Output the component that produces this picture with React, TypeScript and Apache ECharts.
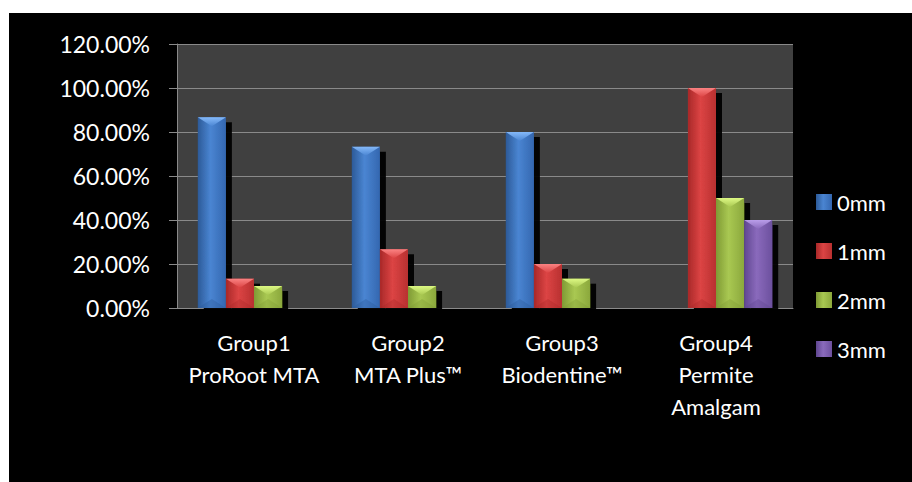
import React, { useEffect, useRef } from "react";
import * as echarts from "echarts";

const categories = ["Group1\nProRoot MTA", "Group2\nMTA Plus™", "Group3\nBiodentine™", "Group4\nPermite\nAmalgam"];
const seriesNames = ["0mm", "1mm", "2mm", "3mm"];
const values0mm = [86.67, 73.33, 80, 0];
const values1mm = [13.33, 26.67, 20, 100];
const values2mm = [10, 10, 13.33, 50];
const values3mm = [0, 0, 0, 40];
const yTicks = { min: 0, max: 120, interval: 20 };

const palette = [
  ["#2c5a98", "#4a85d2", "#3467b0", "#8cc0ff"],
  ["#a82828", "#dc4444", "#b83030", "#ff8a8a"],
  ["#7f9a34", "#a9c852", "#8ba83c", "#e4ff8a"],
  ["#5f4690", "#8a6abc", "#6c509e", "#c0a4f0"],
];

const grad = (c: string[]) =>
  new echarts.graphic.LinearGradient(0, 0, 1, 0, [
    { offset: 0, color: c[0] },
    { offset: 0.45, color: c[1] },
    { offset: 1, color: c[2] },
  ]);

const CAT_GAP = 0.27;

export default function App() {
  const ref = useRef<HTMLDivElement>(null);
  useEffect(() => {
    if (!ref.current) return;
    const chart = echarts.init(ref.current, null, { renderer: "svg" });
    const font = "Lato";
    const all = [values0mm, values1mm, values2mm, values3mm];
    const bevelData: number[][] = [];
    all.forEach((vals, s) => vals.forEach((v, c) => { if (v > 0) bevelData.push([c, s, v]); }));
    chart.setOption({
      animation: false,
      backgroundColor: "#ffffff",
      textStyle: { fontFamily: font },
      graphic: [
        { type: "rect", left: 9, top: 13, shape: { width: 903, height: 469 }, style: { fill: "#000000" }, z: -10 },
      ],
      grid: {
        left: 177,
        right: 119,
        top: 44,
        bottom: 174,
        show: true,
        backgroundColor: "#404040",
        borderWidth: 0,
      },
      legend: {
        orient: "vertical",
        left: 816,
        top: 191,
        padding: 0,
        itemWidth: 16,
        itemHeight: 16,
        itemGap: 27,
        icon: "rect",
        data: seriesNames,
        textStyle: { color: "#ffffff", fontSize: 22, fontFamily: font, lineHeight: 20 },
        itemStyle: { shadowColor: "rgba(0,0,0,0)", shadowBlur: 0, shadowOffsetX: 0, shadowOffsetY: 0 },
      },
      xAxis: {
        type: "category",
        data: categories,
        axisLine: { lineStyle: { color: "#8a8a8a", width: 1 } },
        axisTick: { length: 8, lineStyle: { color: "#8a8a8a" } },
        axisLabel: { color: "#ffffff", fontSize: 22, lineHeight: 32, margin: 18, fontFamily: font, interval: 0 },
      },
      yAxis: {
        type: "value",
        min: yTicks.min,
        max: yTicks.max,
        interval: yTicks.interval,
        axisLine: { show: true, lineStyle: { color: "#8a8a8a", width: 1 } },
        axisTick: { show: true, length: 8, lineStyle: { color: "#8a8a8a" } },
        splitLine: { lineStyle: { color: "#8a8a8a", width: 1 } },
        axisLabel: {
          color: "#ffffff",
          fontSize: 23,
          margin: 27,
          fontFamily: font,
          formatter: (v: number) => v.toFixed(2) + "%",
        },
      },
      series: [
        ...seriesNames.map((name, i) => ({
          name,
          type: "bar",
          data: all[i],
          barGap: "0%",
          barCategoryGap: CAT_GAP * 100 + "%",
          itemStyle: {
            color: grad(palette[i]),
            shadowColor: "rgba(0,0,0,0.95)",
            shadowBlur: 1,
            shadowOffsetX: 6,
            shadowOffsetY: 5,
          },
        })),
        {
          type: "custom",
          name: "bevel",
          data: bevelData,
          encode: { x: 0, y: 2 },
          z: 5,
          silent: true,
          renderItem: (params: any, api: any) => {
            const c = api.value(0);
            const s = api.value(1);
            const v = api.value(2);
            const top = api.coord([c, v]);
            const base = api.coord([c, 0]);
            const catW = api.size([1, 0])[0];
            const bw = (catW * (1 - CAT_GAP)) / 4;
            const x0 = top[0] + (s - 2) * bw;
            const x1 = x0 + bw;
            const h = base[1] - top[1];
            const d = Math.min(9, h / 2);
            const col = palette[s];
            return {
              type: "group",
              children: [
                {
                  type: "polygon",
                  shape: { points: [[x0, top[1]], [x1, top[1]], [(x0 + x1) / 2, top[1] + d]] },
                  style: {
                    fill: new echarts.graphic.LinearGradient(0, 0, 0, 1, [
                      { offset: 0, color: col[3] },
                      { offset: 1, color: col[1] },
                    ]),
                    opacity: 0.9,
                  },
                },
                {
                  type: "polygon",
                  shape: { points: [[x0, base[1]], [x1, base[1]], [(x0 + x1) / 2, base[1] - d]] },
                  style: { fill: col[0], opacity: 0.35 },
                },
              ],
            };
          },
        },
      ],
    });
    return () => chart.dispose();
  }, []);
  return <div ref={ref} style={{ position: "fixed", left: 0, top: 0, width: 912, height: 482 }} />;
}
